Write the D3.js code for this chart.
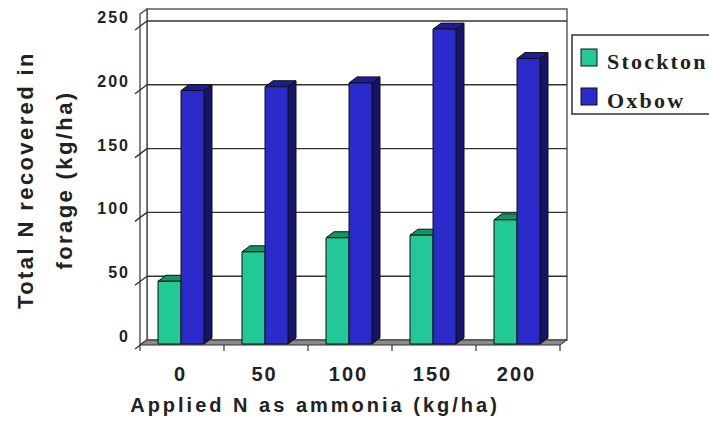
<!DOCTYPE html>
<html>
<head>
<meta charset="utf-8">
<script src="https://cdn.jsdelivr.net/npm/d3@7/dist/d3.min.js"></script>
<style>
  html, body { margin: 0; padding: 0; background: #fff; }
  svg { display: block; }
  text { font-family: "Liberation Sans", Arial, sans-serif; font-weight: bold; fill: #222; }
  text.serif { font-family: "Liberation Serif", "Times New Roman", serif; }
</style>
</head>
<body>
<svg id="chart" width="709" height="425"></svg>
<script>
// Applied N rates (kg/ha) and total N recovered in forage (kg/ha)
const categories = ["0", "50", "100", "150", "200"];
const seriesNames = ["Stockton", "Oxbow"];
const stockton = [49, 72, 83, 85, 97];
const oxbow = [198, 201, 204, 246, 223];
const yTicks = [0, 50, 100, 150, 200, 250];

const svg = d3.select("#chart");

// 3-D box geometry: front plane and back wall, with a small oblique depth
const depth = { dx: 7, dy: -5 };
const barDepth = { dx: 8, dy: -6 };
const front = { x0: 140, x1: 560, y0: 345 };
const back = { x0: front.x0 + depth.dx, x1: front.x1 + depth.dx, y0: front.y0 + depth.dy, top: 9 };

const yBack = d3.scaleLinear().domain([0, 250]).range([back.y0, 21]);
const yBar = d3.scaleLinear().domain([0, 250]).range([344, 24]);
const x = d3.scaleBand().domain(categories).range([front.x0, front.x1]);
const inner = d3.scaleBand().domain(seriesNames).range([18, 64]);

const faces = {
  Stockton: { front: "#22c996", top: "#129468", side: "#0d6e4e" },
  Oxbow:    { front: "#2b2bcc", top: "#1d1d9a", side: "#14146c" }
};

const line = d3.line();

// back wall
svg.append("rect")
  .attr("x", back.x0).attr("y", back.top)
  .attr("width", back.x1 - back.x0).attr("height", back.y0 - back.top)
  .attr("fill", "#fff").attr("stroke", "#444").attr("stroke-width", 1.3);

// left side wall
svg.append("path")
  .attr("d", line([[front.x0, back.top + 5], [back.x0, back.top], [back.x0, back.y0], [front.x0, front.y0]]) + "Z")
  .attr("fill", "#fff").attr("stroke", "#444").attr("stroke-width", 1.3);

// gridlines on back wall, continuing across side wall as tick marks
const grid = svg.append("g");
yTicks.forEach(v => {
  const yb = yBack(v);
  if (v > 0) {
    grid.append("line")
      .attr("x1", back.x0).attr("x2", back.x1)
      .attr("y1", yb).attr("y2", yb)
      .attr("stroke", "#333").attr("stroke-width", 1.4);
  }
  grid.append("path")
    .attr("d", line([[back.x0, yb], [front.x0 - 5, yb - depth.dy + 4]]))
    .attr("stroke", "#333").attr("stroke-width", 1.4).attr("fill", "none");
  grid.append("text")
    .attr("x", 130).attr("y", yb + 2)
    .attr("text-anchor", "end")
    .attr("font-size", 16).attr("letter-spacing", 2)
    .text(v);
});

// floor
svg.append("path")
  .attr("d", line([[front.x0, front.y0], [front.x1, front.y0], [back.x1, back.y0], [back.x0, back.y0]]) + "Z")
  .attr("fill", "#8a8a8a").attr("stroke", "#333").attr("stroke-width", 1);

// category ticks on front edge
categories.concat(["end"]).forEach((c, i) => {
  const xx = i < categories.length ? x(c) : front.x1;
  svg.append("line")
    .attr("x1", xx).attr("x2", xx).attr("y1", front.y0).attr("y2", front.y0 + 6)
    .attr("stroke", "#333").attr("stroke-width", 1.2);
});

// 3-D columns
const data = categories.map((c, i) => ({ c, values: [
  { s: "Stockton", v: stockton[i] }, { s: "Oxbow", v: oxbow[i] }
]}));

const bars = svg.append("g");
data.forEach(d => {
  d.values.forEach(b => {
    const x0 = x(d.c) + inner(b.s);
    const x1 = x0 + inner.bandwidth();
    const yt = yBar(b.v);
    const yb = yBar(0);
    const f = faces[b.s];
    const g = bars.append("g").attr("stroke", "#111").attr("stroke-width", 1).attr("stroke-linejoin", "round");
    g.append("path")
      .attr("d", line([[x1, yb], [x1 + barDepth.dx, yb + barDepth.dy], [x1 + barDepth.dx, yt + barDepth.dy], [x1, yt]]) + "Z")
      .attr("fill", f.side);
    g.append("path")
      .attr("d", line([[x0, yt], [x0 + barDepth.dx, yt + barDepth.dy], [x1 + barDepth.dx, yt + barDepth.dy], [x1, yt]]) + "Z")
      .attr("fill", f.top);
    g.append("rect")
      .attr("x", x0).attr("y", yt).attr("width", x1 - x0).attr("height", yb - yt)
      .attr("fill", f.front);
  });
});

// category labels
svg.append("g").selectAll("text").data(categories).join("text")
  .attr("x", c => x(c) + 40.5)
  .attr("y", 381)
  .attr("text-anchor", "middle")
  .attr("font-size", 20).attr("letter-spacing", 2)
  .text(c => c);

// axis titles
svg.append("text")
  .attr("x", 315).attr("y", 412)
  .attr("text-anchor", "middle")
  .attr("font-size", 20).attr("letter-spacing", 3)
  .text("Applied N as ammonia (kg/ha)");

const yTitle = svg.append("text")
  .attr("transform", "translate(0,180) rotate(-90)")
  .attr("text-anchor", "middle")
  .attr("font-size", 22).attr("letter-spacing", 2.4);
yTitle.append("tspan").attr("x", 0).attr("y", 33).text("Total N recovered in");
yTitle.append("tspan").attr("x", 0).attr("y", 72).text("forage (kg/ha)");

// legend
const legend = svg.append("g");
legend.append("rect")
  .attr("x", 572).attr("y", 35).attr("width", 200).attr("height", 79)
  .attr("fill", "#fff").attr("stroke", "#333").attr("stroke-width", 1.5);
seriesNames.forEach((s, i) => {
  const yy = 49 + i * 39;
  legend.append("rect")
    .attr("x", 581).attr("y", yy).attr("width", 16).attr("height", 17)
    .attr("fill", faces[s].front).attr("stroke", "#111").attr("stroke-width", 1);
  legend.append("text")
    .attr("class", "serif")
    .attr("x", 607).attr("y", yy + 20)
    .attr("font-size", 22).attr("letter-spacing", 2.2)
    .text(s);
});
</script>
</body>
</html>
